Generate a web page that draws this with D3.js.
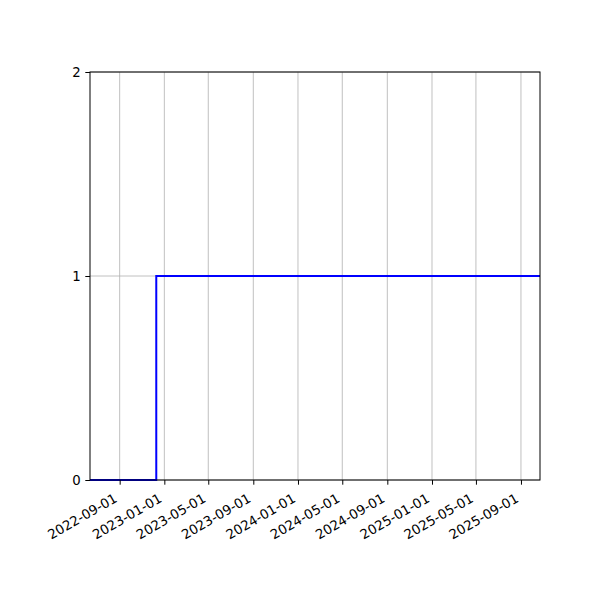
<!DOCTYPE html>
<html>
<head>
<meta charset="utf-8">
<script src="https://cdn.jsdelivr.net/npm/d3@7"></script>
<style>
  body { margin: 0; background: white; }
  text { font-family: "DejaVu Sans", sans-serif; font-size: 13.3px; fill: black; }
</style>
</head>
<body>
<div id="chart"></div>
<script>
// step chart - count over time

// data
const dates = ["2022-06-12", "2022-12-10", "2025-10-23"];
const values = [0, 1, 1];
const xTickLabels = ["2022-09-01", "2023-01-01", "2023-05-01", "2023-09-01", "2024-01-01",
                     "2024-05-01", "2024-09-01", "2025-01-01", "2025-05-01", "2025-09-01"];
const yTicks = [0, 1, 2];

// set the dimensions and margins of the graph
const margin = {top: 72, right: 60, bottom: 120, left: 90},
    width = 600 - margin.left - margin.right,
    height = 600 - margin.top - margin.bottom;

const parse = d3.utcParse("%Y-%m-%d");
const data = dates.map((d, i) => ({date: parse(d), value: values[i]}));

let svg = d3.select("#chart")
  .append("svg")
    .attr("width", 600)
    .attr("height", 600)
  .append("g")
    .attr("transform", `translate(${margin.left}, ${margin.top})`);

// scales
let x = d3.scaleUtc()
  .domain(d3.extent(data, d => d.date))
  .range([0, width]);
let y = d3.scaleLinear()
  .domain([0, 2])
  .range([height, 0]);

const tickDates = xTickLabels.map(parse);

// grid
svg.append("g")
  .selectAll("line")
  .data(tickDates)
  .join("line")
    .attr("x1", d => x(d)).attr("x2", d => x(d))
    .attr("y1", 0).attr("y2", height)
    .attr("stroke", "#b0b0b0")
    .attr("stroke-width", 0.8);
svg.append("g")
  .selectAll("line")
  .data(yTicks)
  .join("line")
    .attr("x1", 0).attr("x2", width)
    .attr("y1", d => y(d)).attr("y2", d => y(d))
    .attr("stroke", "#b0b0b0")
    .attr("stroke-width", 0.8);

// the step line
svg.append("path")
  .datum(data)
  .attr("fill", "none")
  .attr("stroke", "#0000ff")
  .attr("stroke-width", 2)
  .attr("d", d3.line()
    .x(d => x(d.date))
    .y(d => y(d.value))
    .curve(d3.curveStepAfter));

// X axis
let xAxis = svg.append("g")
  .attr("transform", `translate(0, ${height})`)
  .call(d3.axisBottom(x).tickValues(tickDates).tickFormat(d3.utcFormat("%Y-%m-%d"))
    .tickSizeOuter(0).tickSize(4.7).tickPadding(0));
xAxis.select(".domain").remove();
xAxis.selectAll("line").attr("stroke", "black").attr("stroke-width", 1);
xAxis.selectAll("text")
  .attr("text-anchor", "end")
  .attr("dy", null)
  .attr("y", 0)
  .attr("transform", "translate(-2, 21) rotate(-30)")
  .style("font-family", "DejaVu Sans")
  .style("font-size", "13.3px");

// Y axis
let yAxis = svg.append("g")
  .call(d3.axisLeft(y).tickValues(yTicks).tickFormat(d3.format("d"))
    .tickSizeOuter(0).tickSize(4.7).tickPadding(4.7));
yAxis.select(".domain").remove();
yAxis.selectAll("line").attr("stroke", "black").attr("stroke-width", 1);
yAxis.selectAll("text")
  .style("font-family", "DejaVu Sans")
  .style("font-size", "13.3px");

// frame
svg.append("rect")
  .attr("width", width)
  .attr("height", height)
  .attr("fill", "none")
  .attr("stroke", "black")
  .attr("stroke-width", 1);
</script>
</body>
</html>
